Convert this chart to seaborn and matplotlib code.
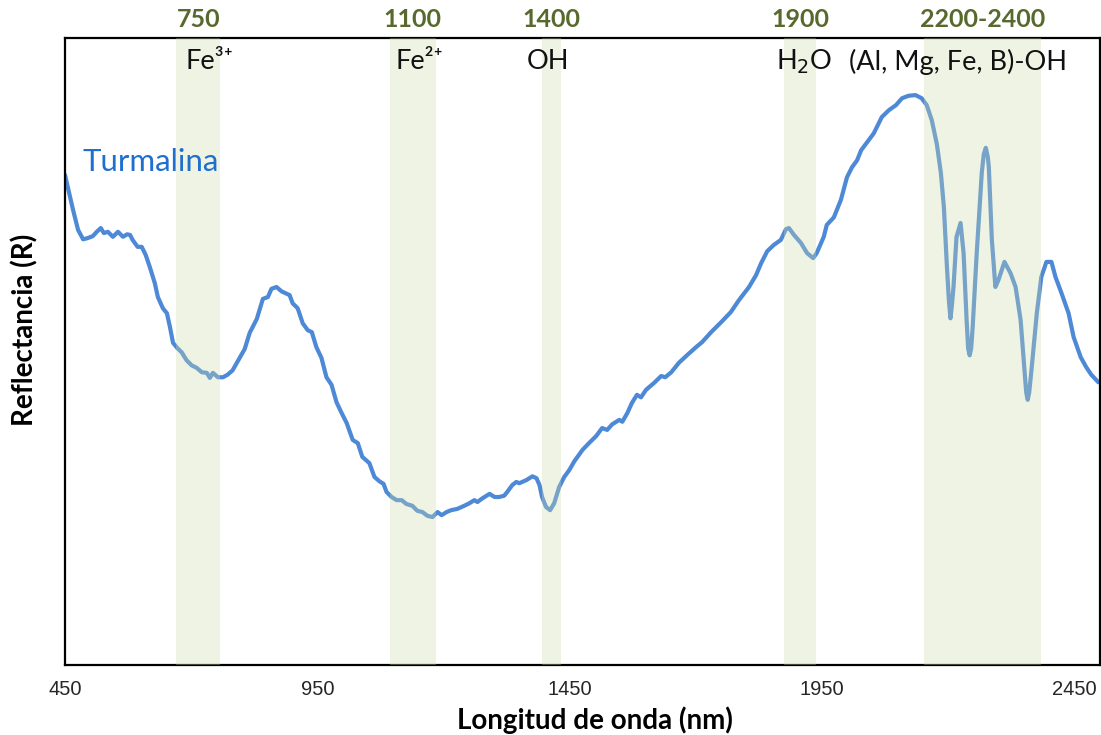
import matplotlib
matplotlib.use("Agg")
import matplotlib.pyplot as plt
import seaborn as sns
import pandas as pd

# ---------------- data ----------------
wavelength_nm = [450, 466, 476, 486, 495, 505, 513, 521, 527, 535, 545, 555, 565, 573, 579, 584,
                 594, 602, 610, 618, 628, 634, 644, 652, 658, 664, 672, 681, 691, 701, 711, 721,
                 731, 737, 743, 753, 763, 772, 782, 796, 806, 816, 830, 842, 852, 859, 869, 879,
                 895, 901, 911, 921, 931, 939, 948, 958, 968, 978, 988, 998, 1008, 1020, 1030,
                 1039, 1053, 1063, 1073, 1081, 1087, 1097, 1107, 1117, 1126, 1138, 1148, 1158,
                 1168, 1178, 1188, 1196, 1206, 1215, 1227, 1241, 1251, 1261, 1267, 1277, 1291,
                 1301, 1310, 1320, 1326, 1336, 1344, 1350, 1364, 1376, 1384, 1390, 1395, 1403,
                 1411, 1419, 1429, 1439, 1449, 1459, 1475, 1488, 1502, 1514, 1524, 1534, 1548,
                 1554, 1564, 1573, 1583, 1591, 1601, 1617, 1631, 1639, 1651, 1666, 1682, 1700,
                 1712, 1730, 1750, 1769, 1785, 1805, 1819, 1829, 1841, 1854, 1868, 1878, 1884,
                 1894, 1908, 1920, 1932, 1939, 1953, 1959, 1973, 1987, 1999, 2009, 2019, 2027,
                 2038, 2052, 2068, 2082, 2096, 2108, 2121, 2135, 2147, 2157, 2167, 2177, 2185,
                 2191, 2197, 2201, 2204, 2207, 2210, 2216, 2224, 2230, 2236, 2239, 2242, 2245,
                 2248, 2256, 2266, 2270, 2274, 2278, 2280, 2286, 2293, 2299, 2311, 2323, 2333,
                 2343, 2351, 2354, 2357, 2360, 2365, 2375, 2384, 2394, 2404, 2412, 2424, 2438,
                 2448, 2462, 2473, 2483, 2497]

reflectance = [78.2, 72.6, 69.4, 67.9, 68.1, 68.4, 69.1, 69.7, 68.9, 69.1, 68.3, 69.1, 68.3, 68.7,
               68.6, 67.8, 66.7, 66.7, 65.4, 63.5, 60.9, 58.7, 56.9, 56.1, 53.9, 51.4, 50.6, 49.9,
               48.6, 47.8, 47.4, 46.7, 46.6, 45.8, 46.6, 45.9, 45.9, 46.3, 47.0, 49.0, 50.4, 53.0,
               55.2, 58.4, 58.7, 60.0, 60.3, 59.6, 59.0, 57.7, 56.9, 54.5, 53.4, 53.1, 50.7, 49.0,
               45.9, 44.7, 41.9, 40.2, 38.6, 35.9, 35.4, 33.2, 32.2, 30.0, 29.3, 28.9, 27.6, 26.8,
               26.3, 26.3, 25.7, 25.4, 24.6, 24.4, 23.8, 23.6, 24.4, 23.9, 24.4, 24.7, 24.9, 25.4,
               25.8, 26.3, 26.0, 26.6, 27.3, 26.8, 26.8, 27.0, 27.6, 28.7, 29.2, 29.0, 29.5, 30.1,
               29.8, 28.7, 26.8, 25.2, 24.7, 25.8, 28.4, 30.0, 31.1, 32.5, 34.3, 35.4, 36.5, 37.8,
               37.5, 38.4, 39.1, 38.8, 40.2, 41.8, 43.1, 42.7, 43.9, 45.0, 46.1, 45.9, 46.7, 48.2,
               49.4, 50.7, 51.5, 53.1, 54.7, 56.3, 58.2, 60.3, 62.2, 64.1, 66.0, 67.0, 67.8, 69.5,
               69.7, 68.6, 67.3, 65.7, 64.9, 65.7, 68.3, 70.2, 71.4, 74.2, 77.8, 79.4, 80.5, 82.1,
               83.3, 84.8, 87.4, 88.5, 89.3, 90.4, 90.8, 90.9, 90.4, 89.3, 86.9, 83.1, 78.5, 73.0,
               63.5, 58.0, 55.3, 57.5, 60.3, 68.3, 70.5, 65.7, 55.0, 50.5, 49.4, 50.5, 53.9, 65.7,
               78.5, 81.5, 82.5, 81.0, 79.4, 67.8, 60.3, 61.4, 64.3, 62.5, 60.3, 55.0, 46.6, 43.5,
               42.3, 43.5, 47.5, 56.1, 61.9, 64.3, 64.3, 61.9, 59.3, 56.1, 52.3, 49.1, 47.5, 46.3,
               45.1]

bands = [(670, 758), (1093, 1184), (1394, 1433), (1874, 1938), (2151, 2383)]
band_labels = ["750", "1100", "1400", "1900", "2200-2400"]

xticks = [450, 950, 1450, 1950, 2450]

df = pd.DataFrame({"nm": wavelength_nm, "R": reflectance})

# ---------------- style ----------------
sns.set_theme(style="white")
plt.rcParams["font.family"] = ["Lato", "DejaVu Sans"]

fig = plt.figure(figsize=(11.01, 7.35), dpi=100)
ax = fig.add_axes([0.059, 0.0952, 0.940, 0.853])

line_color = "#4d89d6"
sns.lineplot(data=df, x="nm", y="R", ax=ax, color=line_color, linewidth=3.0,
             zorder=2, estimator=None, sort=False)

for (a, b) in bands:
    ax.axvspan(a, b, ymin=0, ymax=1, facecolor="#cddaa8", alpha=0.32,
               edgecolor="none", zorder=3)

ax.set_xlim(450, 2500)
ax.set_ylim(0, 100)

ax.set_xticks(xticks)
ax.set_xticklabels([str(t) for t in xticks], family=["Liberation Sans", "DejaVu Sans"],
                   fontsize=14.5)
ax.set_yticks([])
ax.tick_params(axis="x", direction="inout", length=10, width=1.3, color="black", pad=6)

for sp in ax.spines.values():
    sp.set_color("black")
    sp.set_linewidth(1.6)

ax.set_xlabel("Longitud de onda (nm)", fontsize=20, fontweight="bold", color="black")
ax.xaxis.set_label_coords(0.512, -0.066)
ax.set_ylabel("Reflectancia (R)", fontsize=20, fontweight="bold", color="black")
ax.yaxis.set_label_coords(-0.026, 0.535)

trans = ax.get_xaxis_transform()
olive = "#58692e"
for (a, b), lab in zip(bands, band_labels):
    ax.text((a + b) / 2, 1.029, lab, transform=trans, ha="center", va="center",
            fontsize=18, fontweight="bold", color=olive)

inner_fs = 19.5
ax.text(689, 0.962, "Fe³⁺", transform=trans, ha="left", va="center", fontsize=inner_fs,
        color="#111111", family=["Lato", "DejaVu Sans"])
ax.text(1105, 0.962, "Fe²⁺", transform=trans, ha="left", va="center", fontsize=inner_fs,
        color="#111111", family=["Lato", "DejaVu Sans"])
ax.text(1407, 0.962, "OH", transform=trans, ha="center", va="center", fontsize=inner_fs,
        color="#111111")
ax.text(1914, 0.962, "H$_2$O", transform=trans, ha="center", va="center", fontsize=inner_fs,
        color="#111111")
ax.text(2218, 0.962, "(Al, Mg, Fe, B)-OH", transform=trans, ha="center", va="center",
        fontsize=inner_fs, color="#111111")

ax.text(484, 0.802, "Turmalina", transform=trans, ha="left", va="center", fontsize=22.5,
        color="#1f6fcf")

fig.savefig("out.png", dpi=100)
